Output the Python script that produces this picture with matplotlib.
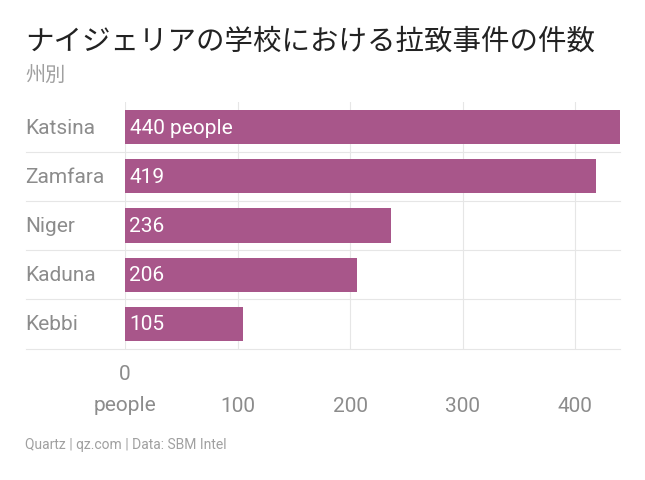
import matplotlib
matplotlib.use("Agg")
import matplotlib.pyplot as plt

states = ["Katsina", "Zamfara", "Niger", "Kaduna", "Kebbi"]
counts = [440, 419, 236, 206, 105]
xticks = [0, 100, 200, 300, 400]
value_labels = ["440 people", "419", "236", "206", "105"]

plt.rcParams["font.family"] = ["Noto Sans CJK JP"]
fig = plt.figure(figsize=(6.45, 4.81), dpi=100)
ax = fig.add_axes([125/645, 1-349.6/481, 495/645, 246.2/481])
color = "#A8568A"
ys = list(range(len(states)))
ax.barh(ys, counts, height=0.7, color=color, zorder=3)
ax.set_ylim(len(states)-0.5, -0.5)
ax.set_xlim(0, 440)
for y, v, lab in zip(ys, counts, value_labels):
    ax.text(4, y, lab, color="white", fontsize=15, va="center", ha="left", zorder=4, family="Roboto")
ax.set_yticks([])
ax.set_xticks([])
for s in ax.spines.values():
    s.set_visible(False)
for t in xticks:
    ax.axvline(t, color="#e6e6e6", lw=0.8, zorder=1)
trans = ax.get_yaxis_transform()
for b in [y + 0.5 for y in ys]:
    ax.plot([-0.2, 1], [b, b], transform=trans, color="#e6e6e6", lw=0.8, clip_on=False, zorder=1)
for y, s in zip(ys, states):
    fig.text(25/645, 1-(128+y*49.25)/481, s, fontsize=15, color="#8c8c8c", va="center", ha="left", family="Roboto")
for t in xticks:
    xf = (125 + t/440*495)/645
    if t == 0:
        fig.text(xf, 1-390/481, "0\npeople", fontsize=15, color="#8c8c8c", ha="center", va="center",
                 family="Roboto", linespacing=1.8)
    else:
        fig.text(xf, 1-406/481, str(t), fontsize=15, color="#8c8c8c", ha="center", va="center", family="Roboto")
fig.text(25/645, 1-42/481, "ナイジェリアの学校における拉致事件の件数", fontsize=20.5, color="#222222", va="center")
fig.text(25/645, 1-75/481, "州別", fontsize=14.5, color="#a0a0a0", va="center")
fig.text(25/645, 1-445/481, "Quartz | qz.com | Data: SBM Intel", fontsize=10, color="#a0a0a0", va="center", family="Roboto")
fig.savefig("out.png", dpi=100)
